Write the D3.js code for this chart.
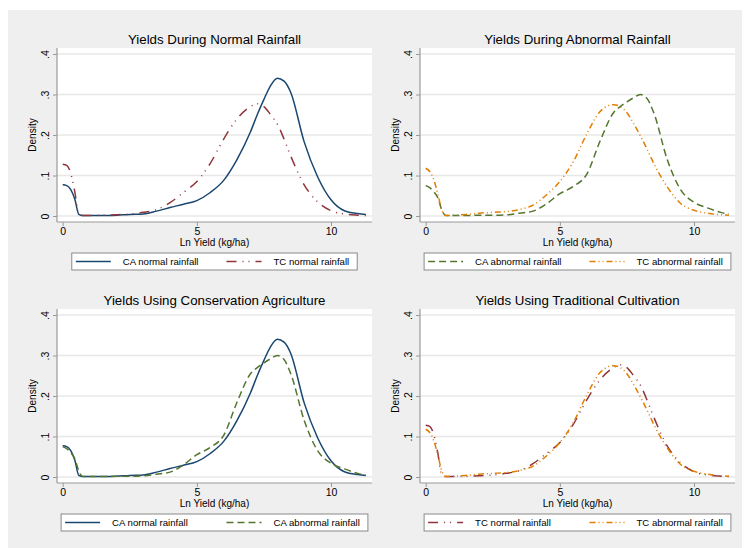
<!DOCTYPE html>
<html>
<head>
<meta charset="utf-8">
<script src="https://cdn.jsdelivr.net/npm/d3@7"></script>
<style>
  body { margin: 0; background: #fff; }
  svg { display: block; font-family: "Liberation Sans", Arial, sans-serif; }
</style>
</head>
<body>
<div id="chart"></div>
<script>
// x grid (ln yield) shared by all density series
const lnYield = [0, 0.15, 0.3, 0.45, 0.6, 0.75, 1, 1.5, 2, 2.5, 3, 3.5, 4, 4.5, 5, 5.5, 6, 6.5, 7, 7.25, 7.5, 7.75, 8, 8.25, 8.5, 9, 9.5, 10, 10.5, 11, 11.3];

const caNormal = [0.077, 0.075, 0.065, 0.042, 0.004, 0.001, 0.001, 0.001, 0.002, 0.004, 0.005, 0.012, 0.021, 0.029, 0.038, 0.058, 0.088, 0.14, 0.208, 0.25, 0.288, 0.322, 0.34, 0.333, 0.305, 0.183, 0.097, 0.04, 0.013, 0.006, 0.004];
const tcNormal = [0.128, 0.125, 0.105, 0.06, 0.004, 0.001, 0.001, 0.002, 0.003, 0.005, 0.009, 0.016, 0.033, 0.058, 0.085, 0.13, 0.19, 0.24, 0.27, 0.277, 0.27, 0.25, 0.227, 0.19, 0.148, 0.077, 0.035, 0.013, 0.005, 0.002, 0.001];
const caAbnormal = [0.075, 0.07, 0.06, 0.045, 0.015, 0.001, 0.001, 0.001, 0.002, 0.002, 0.003, 0.007, 0.012, 0.03, 0.055, 0.073, 0.103, 0.185, 0.255, 0.27, 0.282, 0.292, 0.3, 0.29, 0.255, 0.14, 0.065, 0.034, 0.02, 0.009, 0.005];
const tcAbnormal = [0.118, 0.11, 0.09, 0.055, 0.015, 0.001, 0.002, 0.004, 0.007, 0.009, 0.011, 0.016, 0.027, 0.052, 0.085, 0.134, 0.202, 0.258, 0.275, 0.27, 0.255, 0.228, 0.198, 0.165, 0.13, 0.072, 0.031, 0.014, 0.007, 0.003, 0.002];

const xTicks = [0, 5, 10];
const yTicks = [0, 0.1, 0.2, 0.3, 0.4];
const yTickLabels = ['0', '.1', '.2', '.3', '.4'];

const series = {
  caN: { label: 'CA normal rainfall', values: caNormal, color: '#1a476f', dash: null },
  tcN: { label: 'TC normal rainfall', values: tcNormal, color: '#90353b', dash: '10,6,1,5,1,6' },
  caA: { label: 'CA abnormal rainfall', values: caAbnormal, color: '#55752f', dash: '7,4' },
  tcA: { label: 'TC abnormal rainfall', values: tcAbnormal, color: '#e37e00', dash: '6,3,1,3,1,3' }
};

const panels = [
  { title: 'Yields During Normal Rainfall', keys: ['caN', 'tcN'], dx: 0, dy: 0 },
  { title: 'Yields During Abnormal Rainfall', keys: ['caA', 'tcA'], dx: 363, dy: 0 },
  { title: 'Yields Using Conservation Agriculture', keys: ['caN', 'caA'], dx: 0, dy: 261 },
  { title: 'Yields Using Traditional Cultivation', keys: ['tcN', 'tcA'], dx: 363, dy: 261 }
];

const W = 745, H = 548;
const svg = d3.select('#chart').append('svg')
  .attr('width', W)
  .attr('height', H);

svg.append('rect')
  .attr('x', 8).attr('y', 10)
  .attr('width', 734).attr('height', H - 10)
  .attr('fill', '#efefef');

const axisColor = '#9a9a9a';
const gridColor = '#e8e8e8';

panels.forEach(p => {
  const plot = { left: 57 + p.dx, right: 372 + p.dx, top: 48 + p.dy, bottom: 222 + p.dy };
  const x = d3.scaleLinear().domain([0, 10]).range([62.7 + p.dx, 331 + p.dx]);
  const y = d3.scaleLinear().domain([0, 0.4]).range([216 + p.dy, 54 + p.dy]);
  const g = svg.append('g');

  g.append('rect')
    .attr('x', plot.left).attr('y', plot.top)
    .attr('width', plot.right - plot.left).attr('height', plot.bottom - plot.top)
    .attr('fill', '#fff');

  // grid
  g.selectAll('.grid')
    .data(yTicks)
    .enter().append('line')
    .attr('class', 'grid')
    .attr('x1', plot.left).attr('x2', plot.right)
    .attr('y1', d => y(d)).attr('y2', d => y(d))
    .attr('stroke', gridColor)
    .attr('stroke-width', 1.5);

  // axes
  const yAxis = g.append('g')
    .attr('transform', `translate(${plot.left},0)`)
    .call(d3.axisLeft(y).tickValues(yTicks).tickSize(4).tickFormat((d, i) => yTickLabels[i]));
  yAxis.select('.domain').remove();
  yAxis.selectAll('line').attr('stroke', axisColor);
  yAxis.selectAll('text')
    .attr('x', 0).attr('y', 0).attr('dy', 0)
    .attr('transform', 'translate(-8,0) rotate(-90)')
    .attr('text-anchor', 'middle')
    .attr('font-size', '10.5px')
    .attr('font-family', 'Liberation Sans, Arial, sans-serif')
    .attr('fill', '#000');

  const xAxis = g.append('g')
    .attr('transform', `translate(0,${plot.bottom})`)
    .call(d3.axisBottom(x).tickValues(xTicks).tickSize(4).tickFormat(d3.format('d')));
  xAxis.select('.domain').remove();
  xAxis.selectAll('line').attr('stroke', axisColor);
  xAxis.selectAll('text')
    .attr('y', 6)
    .attr('dy', '0.71em')
    .attr('font-size', '10.5px')
    .attr('font-family', 'Liberation Sans, Arial, sans-serif')
    .attr('fill', '#000');

  g.append('line')
    .attr('x1', plot.left).attr('x2', plot.left)
    .attr('y1', plot.top).attr('y2', plot.bottom)
    .attr('stroke', axisColor).attr('stroke-width', 1.2);
  g.append('line')
    .attr('x1', plot.left).attr('x2', plot.right)
    .attr('y1', plot.bottom).attr('y2', plot.bottom)
    .attr('stroke', axisColor).attr('stroke-width', 1.2);

  // titles
  const cx = (plot.left + plot.right) / 2;
  g.append('text')
    .attr('x', cx).attr('y', 44 + p.dy)
    .attr('text-anchor', 'middle')
    .attr('font-size', '13.3px')
    .text(p.title);
  g.append('text')
    .attr('x', cx).attr('y', 246 + p.dy)
    .attr('text-anchor', 'middle')
    .attr('font-size', '10px')
    .text('Ln Yield (kg/ha)');
  g.append('text')
    .attr('transform', `translate(${36 + p.dx},${(plot.top + plot.bottom) / 2}) rotate(-90)`)
    .attr('text-anchor', 'middle')
    .attr('font-size', '10px')
    .text('Density');

  // density curves
  const line = d3.line()
    .x((d, i) => x(lnYield[i]))
    .y(d => y(d))
    .curve(d3.curveMonotoneX);
  p.keys.forEach(k => {
    const s = series[k];
    g.append('path')
      .datum(s.values)
      .attr('d', line)
      .attr('fill', 'none')
      .attr('stroke', s.color)
      .attr('stroke-width', 1.5)
      .attr('stroke-dasharray', s.dash);
  });

  // legend
  const lg = g.append('g');
  const texts = p.keys.map(k => lg.append('text')
    .attr('font-size', '9.6px')
    .attr('y', 265 + p.dy)
    .text(series[k].label));
  const tw = d3.max(texts, t => t.node().getComputedTextLength());
  const keyW = 35, gap = 12, colGap = 28, pad = 4;
  const colW = keyW + gap + tw + colGap;
  const boxW = pad + colW + keyW + gap + tw + pad * 2;
  const bx = cx - boxW / 2;
  lg.insert('rect', 'text')
    .attr('x', bx).attr('y', 253 + p.dy)
    .attr('width', boxW).attr('height', 17)
    .attr('fill', '#fff')
    .attr('stroke', '#8a8a8a')
    .attr('stroke-width', 1);
  p.keys.forEach((k, i) => {
    const kx = bx + pad + i * colW;
    lg.append('line')
      .attr('x1', kx).attr('x2', kx + keyW)
      .attr('y1', 261.5 + p.dy).attr('y2', 261.5 + p.dy)
      .attr('stroke', series[k].color)
      .attr('stroke-width', 1.5)
      .attr('stroke-dasharray', series[k].dash);
    texts[i].attr('x', kx + keyW + gap);
  });
});
</script>
</body>
</html>
